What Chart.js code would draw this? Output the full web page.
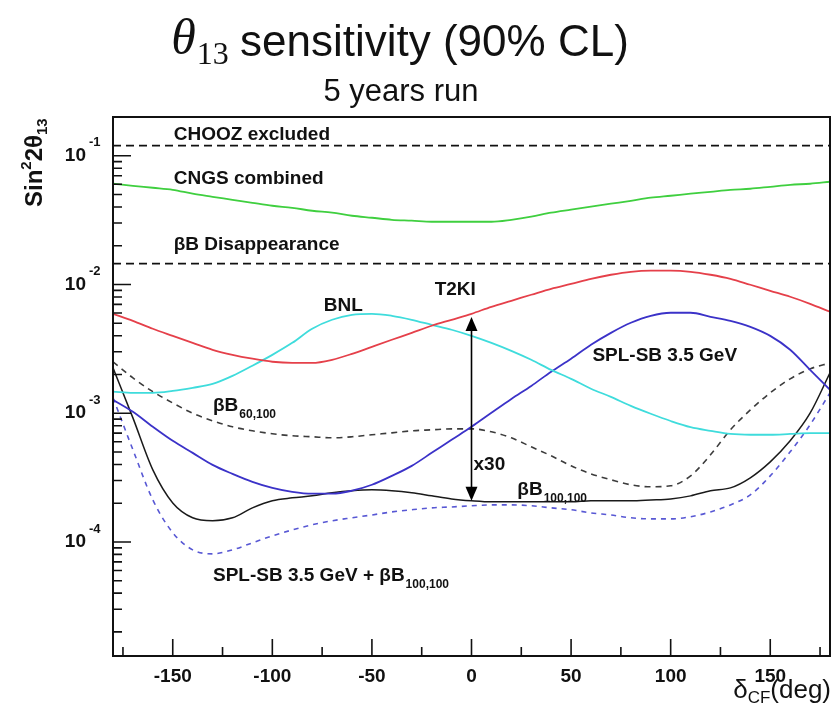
<!DOCTYPE html>
<html><head><meta charset="utf-8">
<script src="https://cdn.jsdelivr.net/npm/chart.js@4.4.1/dist/chart.umd.min.js"></script>
<style>html,body{margin:0;padding:0;background:#fff;}#wrap{position:relative;width:834px;height:705px;}</style>
</head><body><div id="wrap"><canvas id="c" width="834" height="705"></canvas></div>
<script>
// ---- data (delta_CP in degrees, sin^2 2theta13 sensitivity) ----
const deltaCP = [-180,-170,-160,-150,-140,-130,-120,-110,-100,-90,-80,-70,-60,-50,-40,-30,-20,-10,0,10,20,30,40,50,60,70,80,90,100,110,120,130,140,150,160,170,180];
const choozLimit = 0.12;
const bbDisappearance = 0.0145;
const cngsCombined = [0.0606,0.0584,0.0564,0.0544,0.0507,0.0480,0.0455,0.0431,0.0409,0.0394,0.0374,0.0361,0.0342,0.0330,0.0318,0.0313,0.0307,0.0307,0.0307,0.0307,0.0318,0.0336,0.0361,0.0381,0.0402,0.0424,0.0447,0.0472,0.0489,0.0507,0.0525,0.0544,0.0554,0.0574,0.0595,0.0606,0.0628];
const t2ki = [5.92e-3,5.22e-3,4.53e-3,3.99e-3,3.52e-3,3.11e-3,2.84e-3,2.65e-3,2.51e-3,2.46e-3,2.46e-3,2.60e-3,2.89e-3,3.28e-3,3.72e-3,4.21e-3,4.78e-3,5.32e-3,5.92e-3,6.71e-3,7.47e-3,8.32e-3,9.26e-3,1.01e-2,1.107e-2,1.19e-2,1.255e-2,1.28e-2,1.28e-2,1.255e-2,1.19e-2,1.107e-2,9.95e-3,8.93e-3,8.03e-3,7.08e-3,6.14e-3];
const bnl = [1.47e-3,1.44e-3,1.44e-3,1.49e-3,1.575e-3,1.69e-3,1.95e-3,2.34e-3,2.84e-3,3.52e-3,4.53e-3,5.32e-3,5.81e-3,5.92e-3,5.71e-3,5.32e-3,4.86e-3,4.45e-3,3.99e-3,3.52e-3,3.05e-3,2.60e-3,2.17e-3,1.85e-3,1.55e-3,1.34e-3,1.14e-3,9.9e-4,8.7e-4,7.8e-4,7.3e-4,6.9e-4,6.8e-4,6.8e-4,6.9e-4,7.0e-4,7.0e-4];
const splSB = [1.27e-3,1.025e-3,7.84e-4,6.10e-4,4.92e-4,3.97e-4,3.38e-4,2.93e-4,2.63e-4,2.45e-4,2.37e-4,2.37e-4,2.50e-4,2.78e-4,3.26e-4,3.90e-4,4.92e-4,6.22e-4,7.84e-4,1.007e-3,1.29e-3,1.63e-3,2.10e-3,2.65e-3,3.40e-3,4.21e-3,5.04e-3,5.71e-3,6.03e-3,6.03e-3,5.61e-3,5.22e-3,4.69e-3,3.99e-3,3.11e-3,2.17e-3,1.52e-3];
const bb60100 = [2.51e-3,1.88e-3,1.47e-3,1.20e-3,1.0e-3,8.73e-4,7.84e-4,7.30e-4,6.92e-4,6.68e-4,6.56e-4,6.44e-4,6.56e-4,6.80e-4,7.04e-4,7.30e-4,7.43e-4,7.56e-4,7.56e-4,7.17e-4,6.44e-4,5.48e-4,4.67e-4,3.90e-4,3.38e-4,3.04e-4,2.78e-4,2.68e-4,2.73e-4,3.26e-4,4.75e-4,7.43e-4,1.06e-3,1.44e-3,1.85e-3,2.21e-3,2.46e-3];
const bb100100 = [2.25e-3,9.2e-4,3.63e-4,2.01e-4,1.54e-4,1.46e-4,1.54e-4,1.84e-4,2.09e-4,2.20e-4,2.28e-4,2.41e-4,2.50e-4,2.54e-4,2.50e-4,2.41e-4,2.28e-4,2.16e-4,2.09e-4,2.05e-4,2.05e-4,2.05e-4,2.05e-4,2.05e-4,2.09e-4,2.09e-4,2.09e-4,2.12e-4,2.16e-4,2.28e-4,2.50e-4,2.63e-4,3.15e-4,4.19e-4,6.10e-4,1.0e-3,2.06e-3];
const splPlusBB = [1.32e-3,5.2e-4,2.12e-4,1.18e-4,8.68e-5,8.08e-5,8.68e-5,9.84e-5,1.115e-4,1.24e-4,1.36e-4,1.46e-4,1.54e-4,1.62e-4,1.71e-4,1.78e-4,1.84e-4,1.87e-4,1.91e-4,1.94e-4,1.94e-4,1.91e-4,1.84e-4,1.78e-4,1.68e-4,1.62e-4,1.54e-4,1.51e-4,1.51e-4,1.57e-4,1.71e-4,1.94e-4,2.32e-4,3.26e-4,5.01e-4,8.13e-4,1.44e-3];
// arrow (x30) between T2KI and betaB100,100 at delta = 0
const arrowDelta = 0;
const arrowTop = 5.6e-3;
const arrowBottom = 2.09e-4;
// axes
const xTicks = [-150,-100,-50,0,50,100,150];
const xMinorTicks = [-175,-125,-75,-25,25,75,125,175];
const yDecadeExps = [-1,-2,-3,-4];
const yMin = 1.3e-5, yMax = 0.2;
// in-plot text labels (anchor in data coordinates: delta, value)
const plotLabels = [
  {t:'CHOOZ excluded', s:'', x:-149.5, y:0.1456},
  {t:'CNGS combined', s:'', x:-149.5, y:0.0663},
  {t:'\u03B2B Disappearance', s:'', x:-149.5, y:0.0204},
  {t:'T2KI', s:'', x:-18.5, y:9.1e-3},
  {t:'BNL', s:'', x:-74.2, y:6.83e-3},
  {t:'SPL-SB 3.5 GeV', s:'', x:60.7, y:2.79e-3},
  {t:'\u03B2B', s:'60,100', x:-129.8, y:1.14e-3},
  {t:'x30', s:'', x:1, y:3.97e-4},
  {t:'\u03B2B', s:'100,100', x:23, y:2.54e-4},
  {t:'SPL-SB 3.5 GeV + \u03B2B', s:'100,100', x:-129.8, y:5.44e-5}
];

const pts = arr => deltaCP.map((d,i)=>({x:d, y:arr[i]}));
const flat = v => [{x:-180,y:v},{x:180,y:v}];
const SANS = "'Liberation Sans', Arial, sans-serif";
const SERIF = "'Liberation Serif', 'DejaVu Serif', serif";

function line(label, data, color, width, dash){
  return {label, data, borderColor:color, borderWidth:width, borderDash:dash||[],
    pointRadius:0, fill:false, cubicInterpolationMode:'monotone', tension:0.4};
}

const decor = {
  id:'decor',
  afterDraw(chart){
    const ctx = chart.ctx, xs = chart.scales.x, ys = chart.scales.y, a = chart.chartArea;
    ctx.save();
    // arrow
    const ax = xs.getPixelForValue(arrowDelta), y1 = ys.getPixelForValue(arrowTop), y2 = ys.getPixelForValue(arrowBottom);
    ctx.strokeStyle='#000'; ctx.fillStyle='#000'; ctx.lineWidth=1.6;
    ctx.beginPath(); ctx.moveTo(ax, y1+12); ctx.lineTo(ax, y2-12); ctx.stroke();
    ctx.beginPath(); ctx.moveTo(ax, y1); ctx.lineTo(ax-6, y1+14); ctx.lineTo(ax+6, y1+14); ctx.closePath(); ctx.fill();
    ctx.beginPath(); ctx.moveTo(ax, y2); ctx.lineTo(ax-6, y2-14); ctx.lineTo(ax+6, y2-14); ctx.closePath(); ctx.fill();
    // frame
    ctx.lineWidth=2; ctx.strokeStyle='#111';
    ctx.strokeRect(a.left, a.top, a.right-a.left, a.bottom-a.top);
    // y ticks (inward)
    ctx.lineWidth=1.6;
    ctx.beginPath();
    for (let e=-5; e<=-1; e++){
      for (let m=1; m<=9; m++){
        const v = m*Math.pow(10,e);
        if (v < yMin || v > yMax) continue;
        const py = ys.getPixelForValue(v);
        const len = (m===1) ? 18 : 9;
        ctx.moveTo(a.left, py); ctx.lineTo(a.left+len, py);
      }
    }
    // x ticks (inward)
    xTicks.forEach(v=>{const px=xs.getPixelForValue(v); ctx.moveTo(px,a.bottom); ctx.lineTo(px,a.bottom-17);});
    xMinorTicks.forEach(v=>{const px=xs.getPixelForValue(v); ctx.moveTo(px,a.bottom); ctx.lineTo(px,a.bottom-9);});
    ctx.stroke();
    // y tick labels 10^e
    ctx.fillStyle='#111';
    yDecadeExps.forEach(e=>{
      const py = ys.getPixelForValue(Math.pow(10,e));
      ctx.font = "bold 19px "+SANS; ctx.textAlign='right'; ctx.textBaseline='middle';
      ctx.fillText('10', 86, py);
      ctx.font = "bold 13px "+SANS; ctx.textAlign='left';
      ctx.fillText(String(e), 89, py-13);
    });
    // in-plot labels
    plotLabels.forEach(L=>{
      const px = xs.getPixelForValue(L.x), py = ys.getPixelForValue(L.y);
      ctx.font = "bold 19px "+SANS; ctx.textAlign='left'; ctx.textBaseline='middle';
      ctx.fillText(L.t, px, py);
      if (L.s){
        const w = ctx.measureText(L.t).width;
        ctx.font = "bold 12px "+SANS;
        ctx.fillText(L.s, px+w+1, py+9);
      }
    });
    // title
    ctx.textBaseline='alphabetic'; ctx.textAlign='left'; ctx.fillStyle='#111';
    const fTh = "italic 50px "+SERIF, fSub = "32px "+SERIF, fMain = "44px "+SANS;
    ctx.font=fTh; const w1=ctx.measureText('\u03B8').width;
    ctx.font=fSub; const w2=ctx.measureText('13').width;
    ctx.font=fMain; const w3=ctx.measureText(' sensitivity (90% CL)').width;
    let tx = 400-(w1+w2+w3)/2;
    ctx.font=fTh; ctx.fillText('\u03B8', tx, 54); tx+=w1+1;
    ctx.font=fSub; ctx.fillText('13', tx, 64); tx+=w2-1;
    ctx.font=fMain; ctx.fillText(' sensitivity (90% CL)', tx, 56);
    ctx.font="31px "+SANS; ctx.textAlign='center';
    ctx.fillText('5 years run', 401, 101);
    // x axis title
    ctx.textAlign='left';
    const fB = "26px "+SANS, fS="17px "+SANS;
    ctx.font=fB; const d1=ctx.measureText('\u03B4').width, d3=ctx.measureText('(deg)').width;
    ctx.font=fS; const d2=ctx.measureText('CF').width;
    let xx = 831-(d1+d2+d3);
    ctx.font=fB; ctx.fillText('\u03B4', xx, 698); xx+=d1;
    ctx.font=fS; ctx.fillText('CF', xx, 703); xx+=d2;
    ctx.font=fB; ctx.fillText('(deg)', xx, 698);
    // y axis title (rotated)
    ctx.translate(42, 207); ctx.rotate(-Math.PI/2);
    let yy=0;
    ctx.font="bold 24px "+SANS; ctx.fillText('Sin', yy, 0); yy+=ctx.measureText('Sin').width;
    ctx.font="bold 15px "+SANS; ctx.fillText('2', yy, -11); yy+=ctx.measureText('2').width;
    ctx.font="bold 24px "+SANS; ctx.fillText('2\u03B8', yy, 0); yy+=ctx.measureText('2\u03B8').width;
    ctx.font="bold 15px "+SANS; ctx.fillText('13', yy, 5);
    ctx.restore();
  }
};

new Chart(document.getElementById('c'), {
  type:'line',
  data:{datasets:[
    line('CHOOZ excluded', flat(choozLimit), '#111', 1.8, [8,5]),
    line('\u03B2B Disappearance', flat(bbDisappearance), '#111', 1.8, [8,5]),
    line('CNGS combined', pts(cngsCombined), '#3fcf3f', 1.8),
    line('T2KI', pts(t2ki), '#e5404a', 1.8),
    line('BNL', pts(bnl), '#3fdcdc', 1.8),
    line('SPL-SB 3.5 GeV', pts(splSB), '#3b32c8', 1.8),
    line('\u03B2B 60,100', pts(bb60100), '#3c3c3c', 1.6, [6,5]),
    line('\u03B2B 100,100', pts(bb100100), '#1a1a1a', 1.5),
    line('SPL-SB 3.5 GeV + \u03B2B 100,100', pts(splPlusBB), '#5858d4', 1.6, [5,5])
  ]},
  options:{
    responsive:false, animation:false, devicePixelRatio:1,
    layout:{padding:{left:113, right:4, top:117, bottom:0}},
    plugins:{legend:{display:false}, tooltip:{enabled:false}, title:{display:false}},
    scales:{
      x:{type:'linear', min:-180, max:180,
        afterBuildTicks:s=>{s.ticks = xTicks.map(v=>({value:v}));},
        grid:{display:false, drawTicks:false}, border:{display:false},
        ticks:{font:{family:SANS, weight:'bold', size:19}, color:'#111', padding:9, maxRotation:0, autoSkip:false, callback:v=>String(v)},
        afterFit:s=>{s.height=49;}},
      y:{type:'logarithmic', min:yMin, max:yMax,
        grid:{display:false}, border:{display:false}, ticks:{display:false},
        afterFit:s=>{s.width=0;}}
    }
  },
  plugins:[decor]
});
</script></body></html>
